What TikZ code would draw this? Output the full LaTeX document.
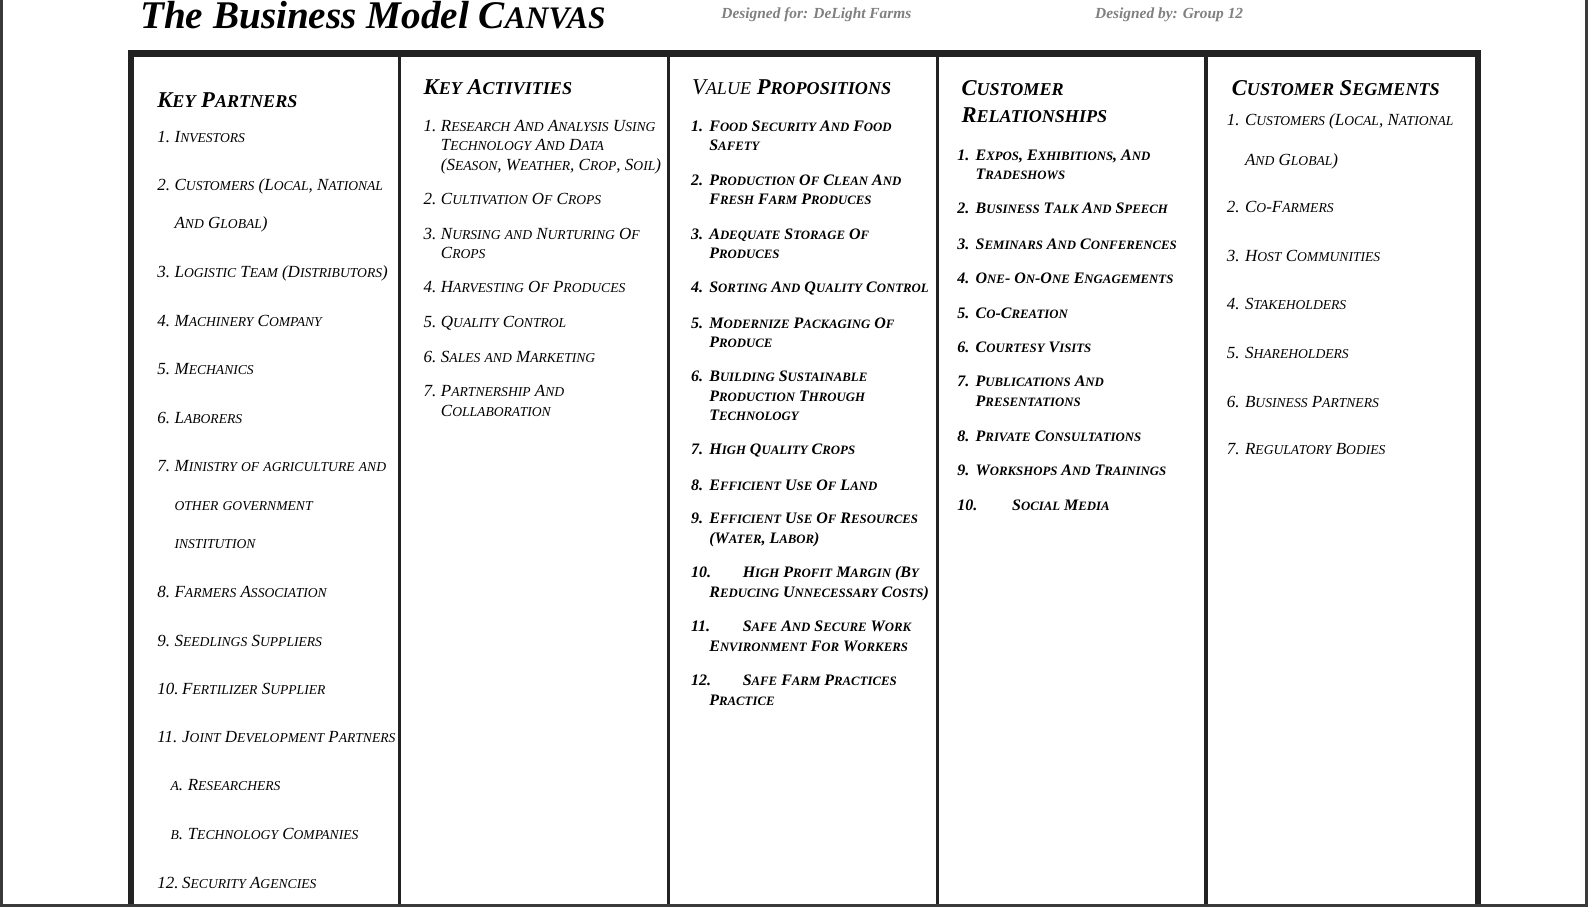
\documentclass[tikz,border=0pt]{standalone}
\usepackage{fontspec}
\setmainfont{Liberation Serif}
\makeatletter
\ExplSyntaxOn
\cs_new_protected:Npn \bmc_small:
  { \fontsize { \fp_eval:n { 0.8 * \f@size } } { \f@baselineskip } \selectfont }
\cs_new_protected:Npn \bmc_sc:n #1
  {
    \str_map_inline:nn {#1}
      {
        \bool_lazy_and:nnTF
          { \int_compare_p:nNn { `##1 } > { 96 } }
          { \int_compare_p:nNn { `##1 } < { 123 } }
          { { \bmc_small: \char_generate:nn { `##1 - 32 } { 11 } } }
          { ##1 }
      }
  }
\NewDocumentCommand \smcap { m } { \exp_args:Ne \bmc_sc:n {#1} }
\ExplSyntaxOff
\makeatother
\definecolor{framegray}{HTML}{222222}
\definecolor{pagegray}{HTML}{3A3A3A}
\definecolor{designgray}{HTML}{808080}
\begin{document}
\begin{tikzpicture}[x=0.5064pt,y=-0.5064pt,
    itemtext/.style={anchor=base west,inner sep=0pt,font=\fontsize{8.5}{10}\selectfont\itshape},
    bolditem/.style={itemtext,font=\fontsize{8.0}{10}\selectfont\bfseries\itshape},
    boxhead/.style={anchor=base west,inner sep=0pt,font=\fontsize{11.3}{13}\selectfont\bfseries\itshape},
    designed/.style={anchor=base west,inner sep=0pt,text=designgray,font=\fontsize{7.7}{9}\selectfont\bfseries\itshape}]
  \useasboundingbox (0,0) rectangle (1568,896);
  \fill[white] (0,0) rectangle (1568,896);
  \draw[pagegray,line width=1.5pt] (1.5,0) -- (1.5,894.5) -- (1566.5,894.5) -- (1566.5,0);

  \node[anchor=base west,inner sep=0pt,font=\fontsize{19.6}{24}\selectfont\bfseries\itshape] (title) at (138,28) {The Business Model \smcap{Canvas}};
  \node[designed] (for) at (712,18) {Designed for: DeLight Farms};
  \node[designed] (by) at (1081,18) {Designed by: Group 12};

  \draw[framegray,line width=3.2pt] (129.4,893) -- (129.4,52.8) -- (1459.3,52.8) -- (1459.3,893);
  \foreach \sx in {394.5,660,925.5,1191}
    \draw[framegray,line width=1.8pt] (\sx,52.8) -- (\sx,893);

  \node[boxhead] (kphead) at (155,106) {\smcap{Key Partners}};
  \foreach \y/\nx/\nr/\tx/\lbl [count=\i] in {141/155/1./172/Investors, 188/155/2./172/{Customers (Local, National}, 226/155//172/And Global),
      274/155/3./172/Logistic Team (Distributors), 322/155/4./172/Machinery Company, 370/155/5./172/Mechanics, 418/155/6./172/Laborers,
      466/155/7./172/Ministry of agriculture and, 504/155//172/other government, 542/155//172/institution,
      590/155/8./172/Farmers Association, 638/155/9./172/Seedlings Suppliers, 686/155/10./179.5/Fertilizer Supplier,
      733/155/11./179.5/Joint Development Partners, 781/168/a./185/Researchers, 829/168/b./185/Technology Companies,
      877/155/12./179.5/Security Agencies}{
    \node[itemtext] (kpn\i) at (\nx,\y) {\smcap{\nr}};
    \node[itemtext] (kp\i) at (\tx,\y) {\smcap{\lbl}};
  }

  \node[boxhead] (kahead) at (418,93) {\smcap{Key Activities}};
  \foreach \y/\nr/\tx/\lbl [count=\i] in {130/1./435/Research And Analysis Using, 149//435/Technology And Data, 168//435/{(Season, Weather, Crop, Soil)},
      202/2./435/Cultivation Of Crops, 236/3./435/Nursing and Nurturing Of, 255//435/Crops, 289/4./435/Harvesting Of Produces,
      323/5./435/Quality Control, 358/6./435/Sales and Marketing, 392/7./435/Partnership And, 411//435/Collaboration}{
    \node[itemtext] (kan\i) at (418,\y) {\smcap{\nr}};
    \node[itemtext] (ka\i) at (\tx,\y) {\smcap{\lbl}};
  }

  \node[boxhead] (vphead) at (683,93) {{\mdseries\smcap{Value}} \smcap{Propositions}};
  \foreach \y/\nr/\tx/\lbl [count=\i] in {130/1./700/Food Security And Food, 149//700/Safety, 183/2./700/Production Of Clean And,
      202//700/Fresh Farm Produces, 236/3./700/Adequate Storage Of, 255//700/Produces, 289/4./700/Sorting And Quality Control,
      324/5./700/Modernize Packaging Of, 343//700/Produce, 377/6./700/Building Sustainable, 396//700/Production Through,
      415//700/Technology, 449/7./700/High Quality Crops, 484/8./700/Efficient Use Of Land, 517/9./700/Efficient Use Of Resources,
      537//700/{(Water, Labor)}, 570/10./733/High Profit Margin (By, 590//700/Reducing Unnecessary Costs),
      624/11./733/Safe And Secure Work, 643//700/Environment For Workers, 677/12./733/Safe Farm Practices, 697//700/Practice}{
    \node[bolditem] (vpn\i) at (682,\y) {\smcap{\nr}};
    \node[bolditem] (vp\i) at (\tx,\y) {\smcap{\lbl}};
  }

  \node[boxhead] (crhead) at (949,94) {\smcap{Customer}};
  \node[boxhead] (crhead2) at (949,121) {\smcap{Relationships}};
  \foreach \y/\nr/\tx/\lbl [count=\i] in {158/1./963/{Expos, Exhibitions, And}, 177//963/Tradeshows, 211/2./963/Business Talk And Speech,
      246/3./963/Seminars And Conferences, 280/4./963/One- On-One Engagements, 314/5./963/Co-Creation, 348/6./963/Courtesy Visits,
      382/7./963/Publications And, 401//963/Presentations, 436/8./963/Private Consultations, 470/9./963/Workshops And Trainings,
      504/10./999/Social Media}{
    \node[bolditem] (crn\i) at (945,\y) {\smcap{\nr}};
    \node[bolditem] (cr\i) at (\tx,\y) {\smcap{\lbl}};
  }

  \node[boxhead] (cshead) at (1216,94) {\smcap{Customer Segments}};
  \foreach \y/\nr/\tx/\lbl [count=\i] in {124/1./1229/{Customers (Local, National}, 163//1229/And Global), 210/2./1229/Co-Farmers,
      258/3./1229/Host Communities, 306/4./1229/Stakeholders, 354/5./1229/Shareholders, 402/6./1229/Business Partners,
      449/7./1229/Regulatory Bodies}{
    \node[itemtext] (csn\i) at (1211,\y) {\smcap{\nr}};
    \node[itemtext] (cs\i) at (\tx,\y) {\smcap{\lbl}};
  }
\end{tikzpicture}
\end{document}
